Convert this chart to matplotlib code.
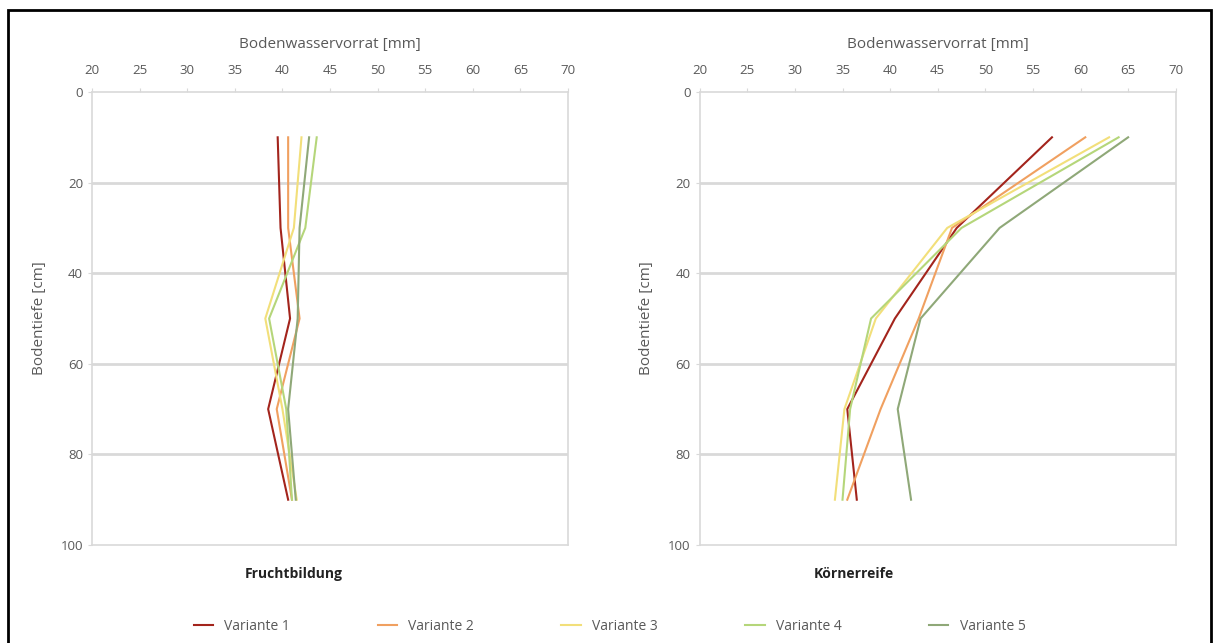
import matplotlib

matplotlib.use("Agg")
import matplotlib.pyplot as plt
from matplotlib.patches import Rectangle

plt.rcParams["font.family"] = ["Open Sans", "DejaVu Sans"]

depth = [10, 30, 50, 70, 90]
labels = ["Variante 1", "Variante 2", "Variante 3", "Variante 4", "Variante 5"]
colors = ["#a3241c", "#f0a060", "#f2df7a", "#b5d67a", "#8fa878"]

# Fruchtbildung
frucht = [
    [39.5, 39.8, 40.8, 38.5, 40.6],
    [40.6, 40.6, 41.8, 39.4, 41.0],
    [42.0, 41.2, 38.2, 40.0, 41.5],
    [43.6, 42.4, 38.6, 40.4, 41.0],
    [42.8, 41.8, 41.6, 40.6, 41.4],
]
# Koernerreife
koerner = [
    [57.0, 47.0, 40.5, 35.5, 36.5],
    [60.5, 46.5, 43.0, 39.0, 35.5],
    [63.0, 46.0, 38.5, 35.2, 34.2],
    [64.0, 47.5, 38.0, 35.8, 35.0],
    [65.0, 51.5, 43.2, 40.8, 42.2],
]

titles = ["Fruchtbildung", "Körnerreife"]
title_x = [0.32, 0.24]
xticks = list(range(20, 75, 5))
yticks = list(range(0, 120, 20))

fig = plt.figure(figsize=(12.19, 6.43), dpi=100)
fig.patches.append(Rectangle((0.0066, -0.1), 0.987, 1.085, transform=fig.transFigure,
                             fill=False, edgecolor="black", linewidth=2))

grey = "#d9d9d9"
txt = "#595959"
axes = [fig.add_axes([0.0755, 0.1524, 0.3905, 0.7045]),
        fig.add_axes([0.574, 0.1524, 0.3905, 0.7045])]

for ax, data, title, tx in zip(axes, [frucht, koerner], titles, title_x):
    for vals, c, lab in zip(data, colors, labels):
        ax.plot(vals, depth, color=c, linewidth=1.5, label=lab)
    ax.set_xlim(20, 70)
    ax.set_ylim(100, 0)
    ax.set_xticks(xticks)
    ax.set_yticks(yticks)
    ax.xaxis.tick_top()
    ax.xaxis.set_label_position("top")
    ax.set_xlabel("Bodenwasservorrat [mm]", color=txt, fontsize=11, labelpad=11)
    ax.set_ylabel("Bodentiefe [cm]", color=txt, fontsize=11, labelpad=10)
    ax.tick_params(colors=txt, labelsize=9.5, length=3, color=grey)
    ax.tick_params(axis="x", pad=8)
    for y in [20, 40, 60, 80]:
        ax.axhline(y, color=grey, linewidth=2, zorder=0)
    for s in ax.spines.values():
        s.set_color(grey)
        s.set_linewidth(1.2)
    ax.text(tx, -0.065, title, transform=ax.transAxes, fontsize=10,
            fontweight="bold", color="#222222", va="center")

handles, labs = axes[0].get_legend_handles_labels()
fig.legend(handles, labs, loc="lower center", bbox_to_anchor=(0.5, -0.005), ncol=5,
           frameon=False, fontsize=10, handlelength=1.4, columnspacing=6.3,
           labelcolor=txt)

fig.savefig("out.png", dpi=100)
